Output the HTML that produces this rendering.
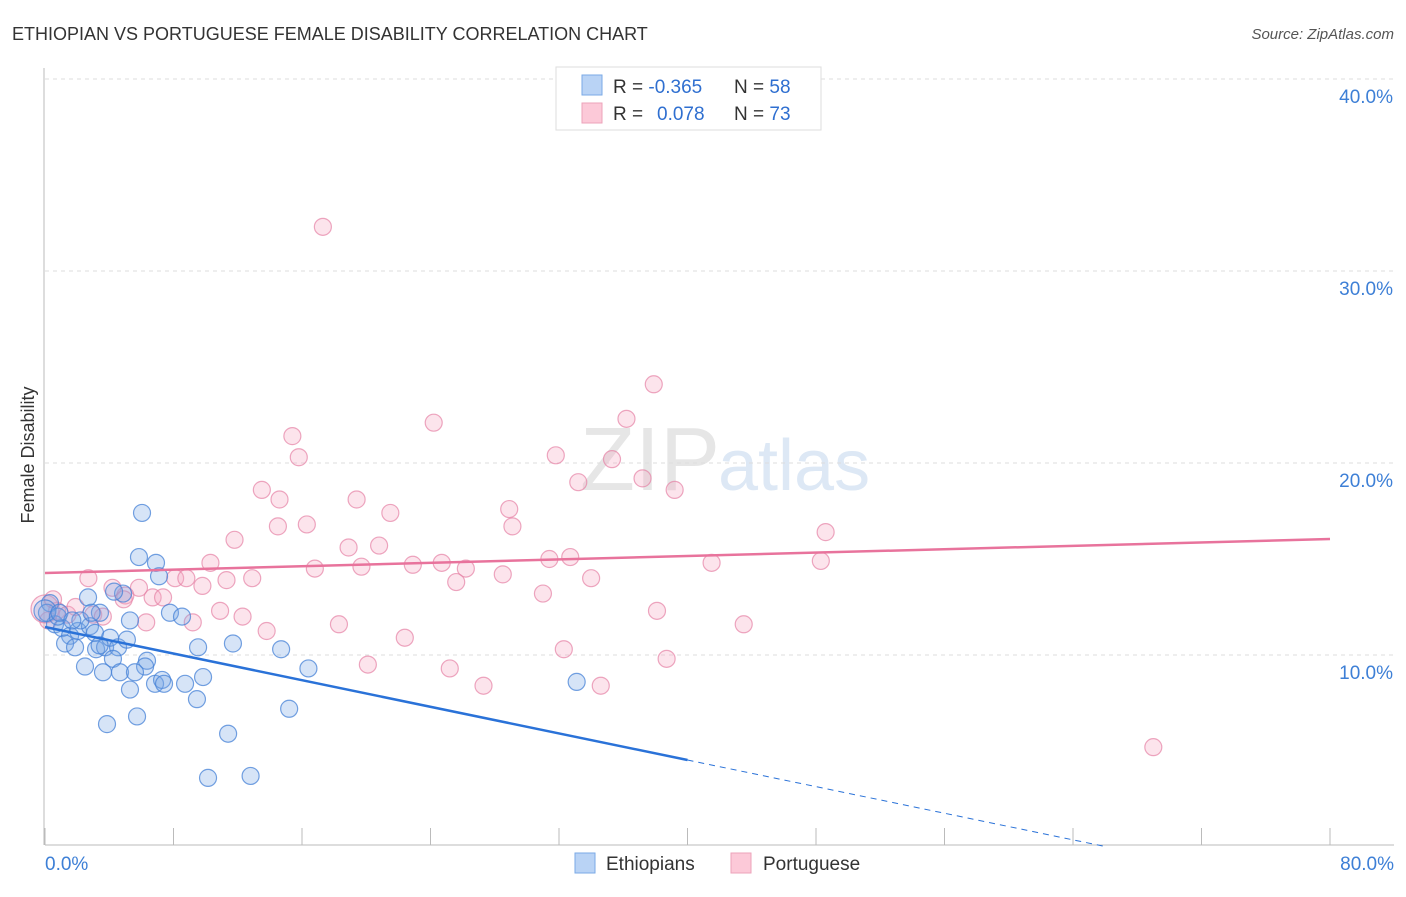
<!DOCTYPE html>
<html><head><meta charset="utf-8">
<style>
body{margin:0;background:#fff;font-family:"Liberation Sans",sans-serif;}
svg text{font-family:"Liberation Sans",sans-serif;}
</style></head>
<body>
<svg id="chart" width="1406" height="892" viewBox="0 0 1406 892" xmlns="http://www.w3.org/2000/svg">
<text x="12" y="40" font-size="18" fill="#333">ETHIOPIAN VS PORTUGUESE FEMALE DISABILITY CORRELATION CHART</text>
<text x="1394" y="39" font-size="15" fill="#555" font-style="italic" text-anchor="end">Source: ZipAtlas.com</text>
<text x="720" y="490" font-size="90" fill="#e6e6e6" text-anchor="end" font-family="Liberation Serif">ZIP</text>
<text x="718" y="490" font-size="72" fill="#dde8f5">atlas</text>
<g id="grid"></g>
<g id="axes"></g>
<g id="points"></g>
<g id="trend"></g>
<text x="34" y="455" font-size="18" fill="#333" text-anchor="middle" transform="rotate(-90 34 455)">Female Disability</text>
<g>
<rect x="556" y="67" width="265" height="63" fill="#fff" stroke="#ddd"/>
<rect x="582" y="75" width="20" height="20" fill="#b9d3f5" stroke="#7aa9e6"/>
<rect x="582" y="103" width="20" height="20" fill="#fcc9d8" stroke="#eca3ba"/>
<text x="613" y="93" font-size="19" fill="#333">R = <tspan fill="#2f6fd0">-0.365</tspan></text>
<text x="734" y="93" font-size="19" fill="#333">N = <tspan fill="#2f6fd0">58</tspan></text>
<text x="613" y="120" font-size="19" fill="#333">R = <tspan fill="#2f6fd0" x="657">0.078</tspan></text>
<text x="734" y="120" font-size="19" fill="#333">N = <tspan fill="#2f6fd0">73</tspan></text>
</g>
<g>
<rect x="575" y="853" width="20" height="20" fill="#b9d3f5" stroke="#7aa9e6"/>
<text x="606" y="870" font-size="19" fill="#333">Ethiopians</text>
<rect x="731" y="853" width="20" height="20" fill="#fcc9d8" stroke="#eca3ba"/>
<text x="763" y="870" font-size="19" fill="#333">Portuguese</text>
</g>
</svg>
<script>
const xTicks=[0,80];
const yTicks=[10,20,30,40];
const blueX=[6.04,5.85,6.91,7.1,4.86,4.3,2.68,3.42,5.29,7.78,8.53,0.31,0.12,0.62,1.06,1.56,2.05,1.25,1.87,2.8,3.11,3.18,3.74,4.05,4.55,5.1,4.23,4.67,3.61,2.49,6.35,6.23,5.6,5.29,6.85,7.29,7.41,8.72,9.53,9.84,11.7,14.7,16.4,9.46,5.73,3.86,11.4,15.2,10.15,12.8,33.1,0,0.8,2.2,3.4,2.9,0.9,1.7];
const blueY=[17.4,15.1,14.8,14.1,13.2,13.3,13.0,12.2,11.8,12.2,12.0,12.7,12.2,11.6,11.4,11.0,11.25,10.6,10.4,11.5,11.15,10.3,10.4,10.9,10.4,10.8,9.8,9.1,9.1,9.4,9.7,9.4,9.1,8.2,8.5,8.7,8.5,8.5,10.4,8.85,10.6,10.3,9.3,7.7,6.8,6.4,5.9,7.2,3.6,3.7,8.6,12.3,12.0,11.8,10.5,12.2,12.2,11.8];
const pinkX=[17.3,37.9,36.2,24.2,15.4,15.8,31.8,35.3,37.2,33.2,39.2,13.5,14.6,19.4,21.5,28.9,29.1,16.3,14.5,48.6,11.8,18.9,20.8,10.3,31.4,32.7,24.7,22.9,26.2,41.5,48.3,16.8,19.7,2.7,11.3,12.9,8.1,8.8,28.5,25.6,34.0,4.2,5.85,9.8,5.0,6.7,7.35,31.0,4.9,0.75,1.4,1.9,3.0,3.6,10.9,38.1,6.3,9.2,12.3,18.3,13.8,43.5,22.4,32.3,20.1,25.2,38.7,27.3,34.6,69.0,0.2,0,0.5];
const pinkY=[32.3,24.1,22.3,22.1,21.4,20.3,20.4,20.2,19.2,19.0,18.6,18.6,18.1,18.1,17.4,17.6,16.7,16.8,16.7,16.4,16.0,15.6,15.7,14.8,15.0,15.1,14.8,14.7,14.5,14.8,14.9,14.5,14.6,14.0,13.9,14.0,14.0,14.0,14.2,13.8,14.0,13.5,13.5,13.6,13.1,13.0,13.0,13.2,12.9,12.3,12.1,12.5,12.1,12.0,12.3,12.3,11.7,11.7,12.0,11.6,11.25,11.6,10.9,10.3,9.5,9.3,9.8,8.4,8.4,5.2,11.8,12.4,12.9];
const blueTrend=[11.46,4.53];
const pinkTrend=[14.27,16.04];
const NS='http://www.w3.org/2000/svg';
const X=v=>45+v*16.0625;
const Y=v=>847-v*19.2;
function mk(tag,attrs,parent){const e=document.createElementNS(NS,tag);for(const k in attrs)e.setAttribute(k,attrs[k]);parent.appendChild(e);return e;}
const grid=document.getElementById('grid'),axes=document.getElementById('axes'),pts=document.getElementById('points'),tr=document.getElementById('trend');
yTicks.forEach(t=>{
 const l=mk('line',{x1:45,x2:1394,y1:Y(t),y2:Y(t),stroke:'#ddd','stroke-dasharray':'4 4'},grid);
 
 
 const tx=mk('text',{x:1393,y:Y(t)+24,'font-size':19,fill:'#3d7fd6','text-anchor':'end'},grid);
 tx.textContent=t.toFixed(1)+'%';
 
 
});
const ax=mk('line',{x1:45,x2:1394,y1:845,y2:845,stroke:'#bbb'},axes);


const ay=mk('line',{x1:44,x2:44,y1:68,y2:845,stroke:'#bbb'},axes);


for(let i=0;i<=10;i++){const v=i*8;const t=mk('line',{x1:X(v),x2:X(v),y1:828,y2:845,stroke:'#bbb'},axes);
 
 }
xTicks.forEach((t,i)=>{const tx=mk('text',{x:i==0?45:1394,y:870,'font-size':19,fill:'#3d7fd6','text-anchor':i==0?'start':'end'},axes);
 tx.textContent=t.toFixed(1)+'%';
 
 });
pinkX.forEach((x,i)=>{const c=mk('circle',{cx:X(x),cy:Y(pinkY[i]),r:(i==71?14:8.5),fill:'rgba(246,165,192,0.3)',stroke:'rgba(230,130,165,0.7)','stroke-width':1.2},pts);
 
 });
blueX.forEach((x,i)=>{const c=mk('circle',{cx:X(x),cy:Y(blueY[i]),r:(i==51?11:8.5),fill:'rgba(120,165,230,0.3)',stroke:'rgba(70,130,215,0.75)','stroke-width':1.2},pts);
 
 });
const slope=(blueTrend[1]-blueTrend[0])/40;
const bl=mk('line',{x1:X(0),y1:Y(blueTrend[0]),x2:X(40),y2:Y(blueTrend[1]),stroke:'#2a72d8','stroke-width':2.5},tr);


const xEnd=Math.min(80,-blueTrend[0]/slope);
const bd=mk('line',{x1:X(40),y1:Y(blueTrend[1]),x2:X(xEnd),y2:Y(blueTrend[0]+slope*xEnd),stroke:'#2a72d8','stroke-width':1,'stroke-dasharray':'6 5'},tr);


const pl=mk('line',{x1:X(0),y1:Y(pinkTrend[0]),x2:X(80),y2:Y(pinkTrend[1]),stroke:'#e8739c','stroke-width':2.5},tr);


</script>
</body></html>
